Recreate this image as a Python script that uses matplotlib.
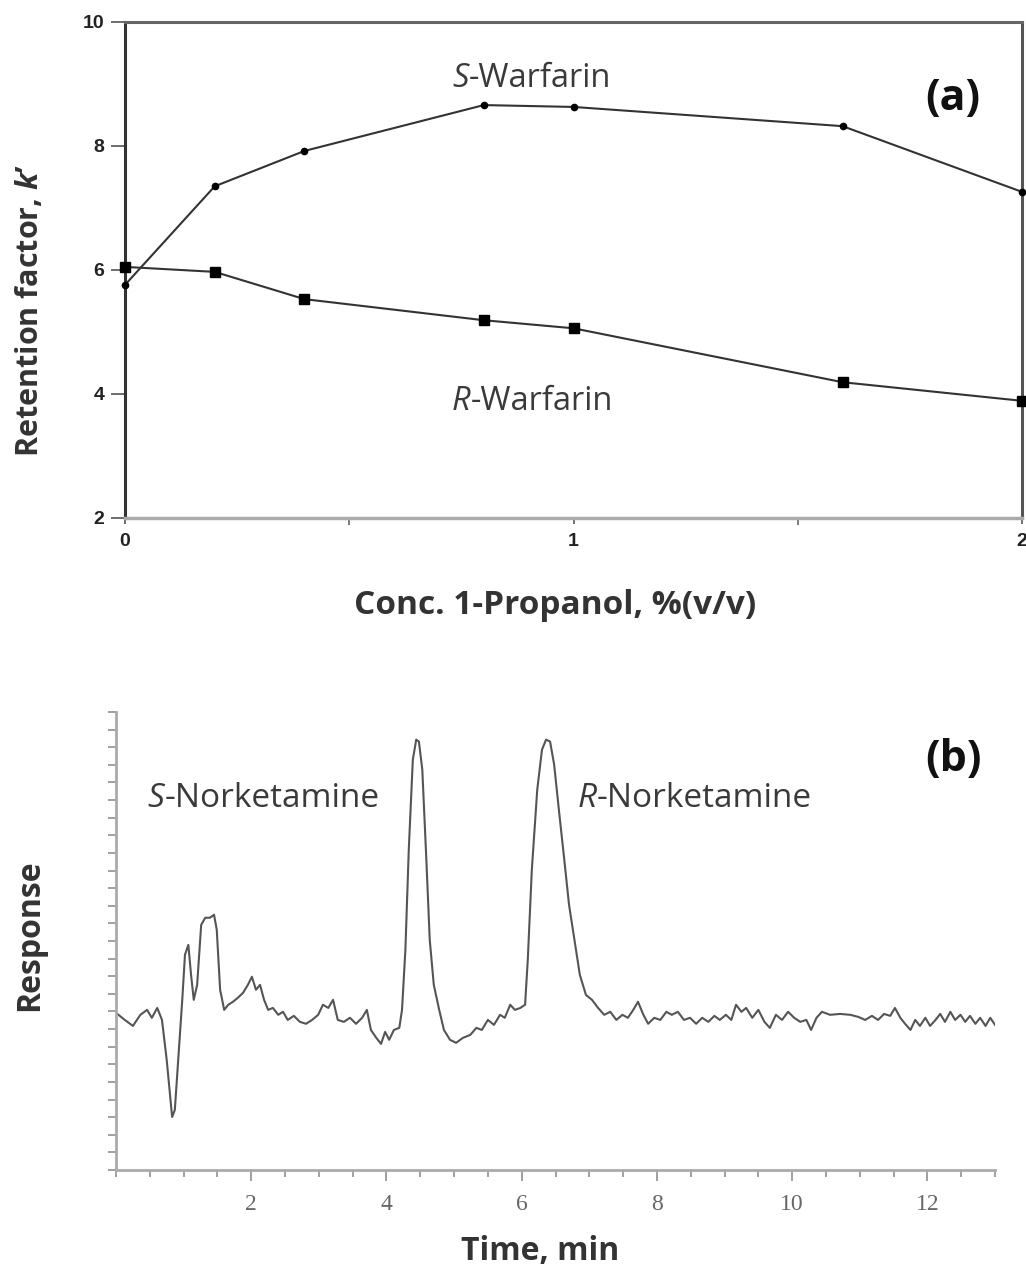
import matplotlib
matplotlib.use("Agg")
import matplotlib.pyplot as plt
from matplotlib.ticker import MultipleLocator

plt.rcParams['font.family'] = ['Open Sans', 'DejaVu Sans']
plt.rcParams['mathtext.fontset'] = 'custom'
plt.rcParams['mathtext.it'] = 'Open Sans:italic:bold'
plt.rcParams['mathtext.rm'] = 'Open Sans:bold'

# ---------------- data: panel (a) ----------------
propanol_conc = [0.0, 0.2, 0.4, 0.8, 1.0, 1.6, 2.0]
k_s_warfarin = [5.76, 7.35, 7.92, 8.66, 8.63, 8.32, 7.26]
k_r_warfarin = [6.05, 5.97, 5.53, 5.19, 5.06, 4.19, 3.89]
a_xticks = [0, 1, 2]
a_yticks = [2, 4, 6, 8, 10]

# ---------------- data: panel (b) chromatogram ----------------
time_min = [0.00, 0.13, 0.25, 0.36, 0.46, 0.53, 0.61, 0.68, 0.75, 0.83,
            0.87, 0.92, 0.98, 1.02, 1.07, 1.11, 1.15, 1.20, 1.26, 1.32,
            1.39, 1.45, 1.49, 1.54, 1.60, 1.66, 1.73, 1.80, 1.88, 1.95,
            2.01, 2.07, 2.13, 2.19, 2.25, 2.32, 2.40, 2.47, 2.54, 2.63,
            2.72, 2.81, 2.90, 2.99, 3.06, 3.14, 3.21, 3.28, 3.37, 3.46,
            3.55, 3.64, 3.71, 3.77, 3.85, 3.92, 3.98, 4.04, 4.11, 4.19,
            4.23, 4.28, 4.33, 4.39, 4.44, 4.48, 4.53, 4.59, 4.64, 4.70,
            4.78, 4.85, 4.94, 5.03, 5.13, 5.24, 5.33, 5.41, 5.50, 5.59,
            5.68, 5.75, 5.83, 5.90, 5.98, 6.05, 6.09, 6.15, 6.23, 6.30,
            6.36, 6.42, 6.48, 6.55, 6.63, 6.70, 6.78, 6.86, 6.95, 7.04,
            7.13, 7.22, 7.31, 7.40, 7.49, 7.57, 7.65, 7.72, 7.80, 7.87,
            7.96, 8.05, 8.14, 8.22, 8.31, 8.40, 8.49, 8.58, 8.67, 8.76,
            8.85, 8.93, 9.02, 9.10, 9.17, 9.25, 9.32, 9.41, 9.50, 9.59,
            9.67, 9.76, 9.85, 9.94, 10.03, 10.12, 10.21, 10.28, 10.36, 10.44,
            10.56, 10.71, 10.86, 10.98, 11.08, 11.18, 11.27, 11.36, 11.45, 11.52,
            11.60, 11.67, 11.75, 11.82, 11.89, 11.97, 12.04, 12.12, 12.19, 12.26,
            12.34, 12.41, 12.49, 12.56, 12.63, 12.71, 12.78, 12.86, 12.93, 13.00]
response = [8.92, 8.52, 8.18, 8.81, 9.09, 8.64, 9.20, 8.52, 6.25, 3.01,
            3.41, 6.25, 9.66, 12.22, 12.78, 11.08, 9.66, 10.51, 13.92, 14.32,
            14.32, 14.49, 13.64, 10.23, 9.09, 9.38, 9.55, 9.77, 10.06, 10.51,
            10.97, 10.23, 10.51, 9.66, 9.09, 9.20, 8.81, 8.98, 8.52, 8.75,
            8.41, 8.30, 8.52, 8.81, 9.38, 9.20, 9.66, 8.52, 8.41, 8.64,
            8.30, 8.64, 9.09, 7.95, 7.50, 7.16, 7.84, 7.39, 7.95, 8.07,
            9.09, 12.50, 18.18, 23.30, 24.43, 24.32, 22.73, 17.61, 13.07, 10.51,
            9.09, 7.95, 7.39, 7.22, 7.50, 7.67, 8.07, 7.95, 8.52, 8.24,
            8.81, 8.64, 9.38, 9.09, 9.20, 9.38, 11.93, 17.05, 21.59, 23.86,
            24.43, 24.32, 23.01, 20.45, 17.61, 15.06, 13.07, 11.08, 9.94, 9.66,
            9.20, 8.81, 8.98, 8.52, 8.81, 8.64, 9.09, 9.55, 8.81, 8.30,
            8.64, 8.52, 8.98, 8.81, 8.98, 8.52, 8.64, 8.30, 8.64, 8.41,
            8.75, 8.52, 8.81, 8.52, 9.38, 8.98, 9.20, 8.64, 9.09, 8.41,
            8.07, 8.81, 8.52, 8.98, 8.64, 8.41, 8.52, 7.95, 8.64, 8.98,
            8.81, 8.86, 8.81, 8.69, 8.52, 8.75, 8.52, 8.86, 8.75, 9.20,
            8.64, 8.30, 7.95, 8.52, 8.18, 8.64, 8.18, 8.52, 8.86, 8.41,
            8.98, 8.52, 8.81, 8.41, 8.75, 8.30, 8.64, 8.18, 8.64, 8.24]
b_xticks = [2, 4, 6, 8, 10, 12]

W, H = 1026, 1273
fig = plt.figure(figsize=(W / 100, H / 100), dpi=100)

def box(l, t, r, b):
    return [l / W, 1 - b / H, (r - l) / W, (b - t) / H]

# ---------------- panel (a) ----------------
ax = fig.add_axes(box(125, 22, 1022, 518))
ax.plot(propanol_conc, k_s_warfarin, color='#333333', lw=1.5, marker='o',
        ms=4.5, mfc='black', mec='black', clip_on=False, zorder=3)
ax.plot(propanol_conc, k_r_warfarin, color='#333333', lw=1.5, marker='s',
        ms=6.5, mfc='black', mec='black', clip_on=False, zorder=3)
ax.set_xlim(0, 2)
ax.set_ylim(2, 10)
ax.set_xticks(a_xticks)
ax.set_yticks(a_yticks)
ax.xaxis.set_minor_locator(MultipleLocator(0.5))
ax.tick_params(axis='y', direction='out', length=10, width=1.2, color='#555555',
               pad=5, labelsize=14, labelcolor='#222222')
ax.tick_params(axis='x', which='major', direction='out', length=4, width=1.2,
               color='#555555', pad=7, labelsize=14, labelcolor='#222222')
ax.tick_params(axis='x', which='minor', direction='out', length=5, width=1.2,
               color='#666666')
for lab in ax.get_xticklabels() + ax.get_yticklabels():
    lab.set_fontweight('bold')
    lab.set_family(['Liberation Sans', 'DejaVu Sans'])
ax.spines['left'].set_color('#333333')
ax.spines['left'].set_linewidth(2.2)
ax.spines['top'].set_color('#666666')
ax.spines['top'].set_linewidth(2.2)
ax.spines['right'].set_color('#555555')
ax.spines['right'].set_linewidth(2.2)
ax.spines['bottom'].set_color('#aaaaaa')
ax.spines['bottom'].set_linewidth(2.5)

txt_kw = dict(fontsize=23.5, color='#3a3a3a')
t1 = ax.text(0.729, 8.95, 'S', fontstyle='italic', ha='left', va='baseline', **txt_kw)
ax.annotate('-Warfarin', xy=(1, 0), xycoords=t1, ha='left', va='bottom', **txt_kw)
t2 = ax.text(0.729, 3.74, 'R', fontstyle='italic', ha='left', va='baseline', **txt_kw)
ax.annotate('-Warfarin', xy=(1, 0), xycoords=t2, ha='left', va='bottom', **txt_kw)
ax.text(1.846, 8.76, '(a)', fontsize=31, fontweight='bold', color='#111111',
        ha='center', va='center')

fig.text(30 / W, 1 - 310 / H, "Retention factor, $k$\u2019", rotation=90,
         fontsize=22, fontweight='bold', color='#333333', ha='center', va='center')
fig.text(555 / W, 1 - 605 / H, 'Conc. 1-Propanol, %(v/v)', fontsize=24,
         fontweight='bold', color='#333333', ha='center', va='center')

# ---------------- panel (b) ----------------
bx = fig.add_axes(box(116, 712, 995, 1170))
bx.plot(time_min, response, color='#555555', lw=1.5)
bx.set_xlim(0, 13)
bx.set_ylim(0, 26)
bx.set_xticks(b_xticks)
bx.xaxis.set_minor_locator(MultipleLocator(0.5))
bx.yaxis.set_major_locator(MultipleLocator(1))
bx.tick_params(axis='y', direction='out', length=6, width=1.3, color='#999999',
               labelleft=False)
bx.tick_params(axis='x', which='major', direction='out', length=8, width=1.3,
               color='#999999', pad=9, labelsize=17, labelcolor='#666666')
bx.tick_params(axis='x', which='minor', direction='out', length=5, width=1.3,
               color='#999999')
for lab in bx.get_xticklabels():
    lab.set_family(['Liberation Serif', 'DejaVu Serif'])
for s in ('top', 'right'):
    bx.spines[s].set_visible(False)
for s in ('left', 'bottom'):
    bx.spines[s].set_color('#aaaaaa')
    bx.spines[s].set_linewidth(2.0)

txt_kw2 = dict(fontsize=24, color='#3a3a3a')
t3 = bx.text(0.47, 20.6, 'S', fontstyle='italic', ha='left', va='baseline', **txt_kw2)
bx.annotate('-Norketamine', xy=(1, 0), xycoords=t3, ha='left', va='bottom', **txt_kw2)
t4 = bx.text(6.83, 20.6, 'R', fontstyle='italic', ha='left', va='baseline', **txt_kw2)
bx.annotate('-Norketamine', xy=(1, 0), xycoords=t4, ha='left', va='bottom', **txt_kw2)
bx.text(12.38, 23.3, '(b)', fontsize=31, fontweight='bold', color='#111111',
        ha='center', va='center')

fig.text(30 / W, 1 - 935 / H, 'Response', rotation=90, fontsize=23,
         fontweight='bold', color='#333333', ha='center', va='center')
fig.text(540 / W, 1 - 1252 / H, 'Time, min', fontsize=23, fontweight='bold',
         color='#333333', ha='center', va='center')

fig.savefig('out.png', dpi=100, facecolor='white')
